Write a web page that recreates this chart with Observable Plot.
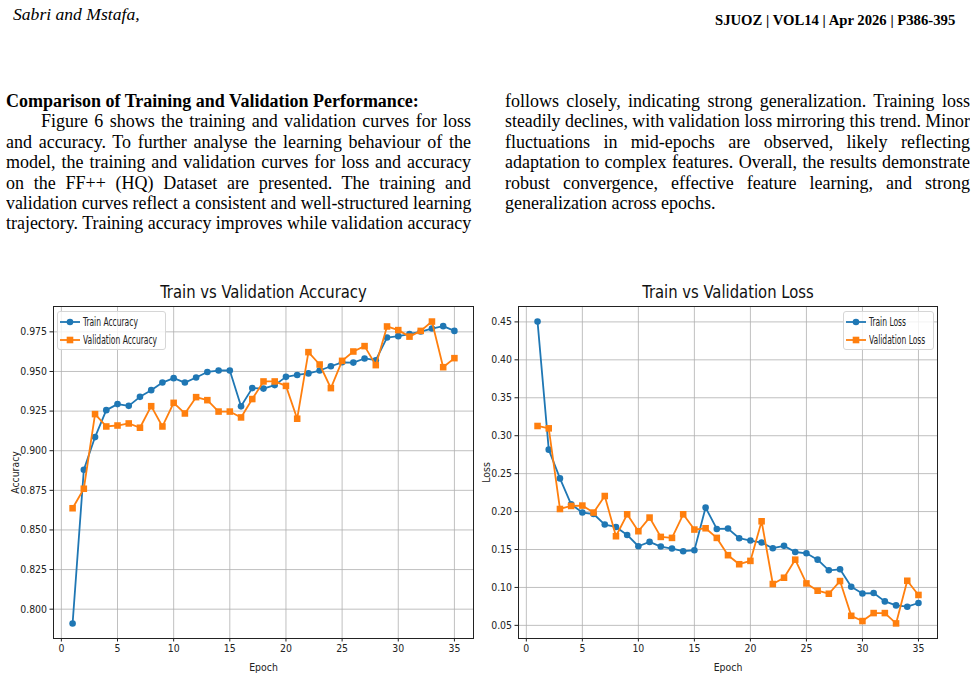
<!DOCTYPE html>
<html>
<head>
<meta charset="utf-8">
<script src="https://cdn.jsdelivr.net/npm/d3@7"></script>
<script src="https://cdn.jsdelivr.net/npm/@observablehq/plot@0.6"></script>
<style>
  html, body { margin: 0; padding: 0; background: #fff; }
  #page { position: relative; width: 978px; height: 680px; overflow: hidden; background: #fff; font-family: "Liberation Serif", "Times New Roman", serif; color: #000; }
  .abs { position: absolute; white-space: nowrap; }
  .line { position: absolute; white-space: nowrap; font-size: 18px; line-height: 20.4px; text-align: justify; text-align-last: justify; }
  .line.last { text-align-last: left; }
  .legend { position: absolute; background: rgba(255,255,255,0.8); border: 1px solid #d6d6d6; border-radius: 3px; box-sizing: border-box; font-family: "DejaVu Sans Condensed", "DejaVu Sans", sans-serif; font-stretch: condensed; font-size: 11.5px; color: #222; }
  .legend .row { position: absolute; left: 0; height: 14px; display: flex; align-items: center; white-space: nowrap; }
  .legend .row span { display: inline-block; transform-origin: 0 50%; transform: scaleX(0.73); }
  .legend svg { display: block; flex: none; }
  .chart { position: absolute; top: 280px; }
</style>
</head>
<body>
<div id="page"></div>
<script>
// Training history, one value per epoch
const epochs = [1, 2, 3, 4, 5, 6, 7, 8, 9, 10, 11, 12, 13, 14, 15, 16, 17, 18, 19, 20, 21, 22, 23, 24, 25, 26, 27, 28, 29, 30, 31, 32, 33, 34, 35];
const trainAcc = [0.791, 0.888, 0.9086, 0.9256, 0.9294, 0.9283, 0.934, 0.9382, 0.943, 0.9458, 0.943, 0.9462, 0.9497, 0.9506, 0.9506, 0.928, 0.9395, 0.9392, 0.9414, 0.9466, 0.9478, 0.9488, 0.9506, 0.9533, 0.9558, 0.9556, 0.9582, 0.9571, 0.9714, 0.9723, 0.9736, 0.9752, 0.9771, 0.9786, 0.9756];
const valAcc = [0.8637, 0.876, 0.9231, 0.9153, 0.9159, 0.9172, 0.9145, 0.9281, 0.9153, 0.9302, 0.9235, 0.9338, 0.9319, 0.9247, 0.9247, 0.921, 0.9326, 0.9437, 0.9437, 0.9409, 0.9202, 0.9622, 0.9544, 0.9395, 0.9567, 0.9626, 0.966, 0.954, 0.9784, 0.9761, 0.972, 0.9756, 0.9815, 0.9527, 0.9584];
const trainLoss = [0.4504, 0.2816, 0.2437, 0.2096, 0.1987, 0.1968, 0.1829, 0.1797, 0.1692, 0.1543, 0.16, 0.1539, 0.1513, 0.1478, 0.149, 0.2053, 0.1771, 0.1776, 0.1649, 0.1618, 0.1592, 0.1517, 0.1548, 0.1467, 0.145, 0.1366, 0.1226, 0.1239, 0.1009, 0.0921, 0.0926, 0.0816, 0.0763, 0.0746, 0.0795];
const valLoss = [0.3128, 0.3097, 0.2034, 0.2074, 0.2079, 0.1987, 0.2205, 0.1675, 0.1964, 0.1741, 0.1921, 0.1666, 0.1653, 0.1964, 0.1763, 0.178, 0.1653, 0.1425, 0.1306, 0.135, 0.1872, 0.1045, 0.1128, 0.1366, 0.1053, 0.0957, 0.0917, 0.1084, 0.0626, 0.0557, 0.0662, 0.0662, 0.0526, 0.1088, 0.0901];

// Tick values
const epochTicks = [0, 5, 10, 15, 20, 25, 30, 35];
const accTicks = [0.800, 0.825, 0.850, 0.875, 0.900, 0.925, 0.950, 0.975];
const lossTicks = [0.05, 0.10, 0.15, 0.20, 0.25, 0.30, 0.35, 0.40, 0.45];

// Text
const headerLeft = "Sabri and Mstafa,";
const headerRight = "SJUOZ | VOL14 | Apr 2026 | P386-395";
const heading = "Comparison of Training and Validation Performance:";
const leftLines = [
  "Figure 6 shows the training and validation curves for loss",
  "and accuracy. To further analyse the learning behaviour of the",
  "model, the training and validation curves for loss and accuracy",
  "on the FF++ (HQ) Dataset are presented. The training and",
  "validation curves reflect a consistent and well-structured learning",
  "trajectory. Training accuracy improves while validation accuracy"
];
const rightLines = [
  "follows closely, indicating strong generalization. Training loss",
  "steadily declines, with validation loss mirroring this trend. Minor",
  "fluctuations in mid-epochs are observed, likely reflecting",
  "adaptation to complex features. Overall, the results demonstrate",
  "robust convergence, effective feature learning, and strong",
  "generalization across epochs."
];

const BLUE = "#1f77b4", ORANGE = "#ff7f0e";
const chartFont = '"DejaVu Sans Condensed", "DejaVu Sans", sans-serif';
const page = document.getElementById("page");

function addDiv(cls, text, css) {
  const d = document.createElement("div");
  d.className = cls;
  d.textContent = text;
  Object.assign(d.style, css);
  page.appendChild(d);
  return d;
}

// Running header
addDiv("abs", headerLeft, {left: "13px", top: "4px", fontSize: "17.6px", fontStyle: "italic"});
addDiv("abs", headerRight, {left: "715px", top: "12px", fontSize: "14.7px", fontWeight: "bold"});

// Two text columns
const lineTop = 91, lineStep = 20.4;
addDiv("line last", heading, {left: "6px", top: lineTop + "px", fontWeight: "bold"});
leftLines.forEach((t, i) => {
  const indent = i === 0 ? 35 : 0;
  addDiv("line", t, {left: (6 + indent) + "px", width: (465 - indent) + "px", top: (lineTop + (i + 1) * lineStep) + "px"});
});
rightLines.forEach((t, i) => {
  addDiv(i === rightLines.length - 1 ? "line last" : "line", t, {left: "505px", width: "465px", top: (lineTop + i * lineStep) + "px"});
});

// Squeeze any justified line whose natural width overflows its column
document.querySelectorAll(".line").forEach(el => {
  if (el.style.width && el.scrollWidth > el.clientWidth + 0.5) {
    el.style.transformOrigin = "0 0";
    el.style.transform = `scaleX(${el.clientWidth / el.scrollWidth})`;
  }
});

function lineChart({rows, yDomain, yTicks, yFormat, yLabel, title, left, width, marginLeft, marginRight, yLabelOffset}) {
  const chart = Plot.plot({
    width, height: 400,
    marginLeft, marginRight, marginTop: 26, marginBottom: 42,
    style: {fontFamily: chartFont, fontSize: "10.4px", background: "transparent", color: "#222", overflow: "visible"},
    x: {domain: [-0.7, 36.7]},
    y: {domain: yDomain},
    marks: [
      Plot.gridX(epochTicks, {stroke: "#b0b0b0", strokeOpacity: 1, strokeWidth: 0.8}),
      Plot.gridY(yTicks, {stroke: "#b0b0b0", strokeOpacity: 1, strokeWidth: 0.8}),
      Plot.axisX(epochTicks, {tickSize: 3.5, tickPadding: 3, label: "Epoch", labelAnchor: "center", labelArrow: "none", labelOffset: 32}),
      Plot.axisY(yTicks, {tickSize: 3.5, tickPadding: 3, tickFormat: d3.format(yFormat), label: yLabel, labelAnchor: "center", labelArrow: "none", labelOffset: yLabelOffset}),
      Plot.frame({stroke: "#222", strokeWidth: 1}),
      Plot.line(rows, {x: "epoch", y: "train", stroke: BLUE, strokeWidth: 1.8}),
      Plot.dot(rows, {x: "epoch", y: "train", fill: BLUE, r: 3.3, symbol: "circle"}),
      Plot.line(rows, {x: "epoch", y: "val", stroke: ORANGE, strokeWidth: 1.8}),
      Plot.dot(rows, {x: "epoch", y: "val", fill: ORANGE, r: 3.7, symbol: "square"}),
      Plot.text([title], {frameAnchor: "top", lineAnchor: "middle", dy: -14, fontSize: 18, fill: "#111", className: "chart-title"})
    ]
  });
  // narrow the title glyphs horizontally around their anchor
  chart.querySelectorAll(".chart-title text").forEach(t => {
    t.setAttribute("transform", (t.getAttribute("transform") || "") + " scale(0.915,1)");
  });
  chart.classList.add("chart");
  chart.style.left = left + "px";
  page.appendChild(chart);
}

function legend({left, top, width, height, items}) {
  const box = document.createElement("div");
  box.className = "legend";
  Object.assign(box.style, {left: left + "px", top: top + "px", width: width + "px", height: height + "px"});
  items.forEach((it, i) => {
    const row = document.createElement("div");
    row.className = "row";
    row.style.top = (3 + i * 17.6) + "px";
    const marker = it.symbol === "circle"
      ? `<circle cx="12" cy="7" r="3.3" fill="${it.color}"/>`
      : `<rect x="8.7" y="3.7" width="6.6" height="6.6" fill="${it.color}"/>`;
    row.innerHTML = `<svg width="24" height="14"><line x1="2" y1="7" x2="22" y2="7" stroke="${it.color}" stroke-width="1.8"/>${marker}</svg><span style="margin-left:1px">${it.label}</span>`;
    box.appendChild(row);
  });
  page.appendChild(box);
}

const accRows = epochs.map((e, i) => ({epoch: e, train: trainAcc[i], val: valAcc[i]}));
const lossRows = epochs.map((e, i) => ({epoch: e, train: trainLoss[i], val: valLoss[i]}));

lineChart({rows: accRows, yDomain: [0.7815, 0.991], yTicks: accTicks, yFormat: ".3f", yLabel: "Accuracy",
  title: "Train vs Validation Accuracy", left: 0, width: 480, marginLeft: 53, marginRight: 7, yLabelOffset: 42});
lineChart({rows: lossRows, yDomain: [0.0327, 0.4703], yTicks: lossTicks, yFormat: ".2f", yLabel: "Loss",
  title: "Train vs Validation Loss", left: 480, width: 498, marginLeft: 38, marginRight: 41, yLabelOffset: 36});

legend({left: 57, top: 311, width: 109, height: 39, items: [
  {label: "Train Accuracy", color: BLUE, symbol: "circle"},
  {label: "Validation Accuracy", color: ORANGE, symbol: "square"}
]});
legend({left: 843, top: 311, width: 91, height: 39, items: [
  {label: "Train Loss", color: BLUE, symbol: "circle"},
  {label: "Validation Loss", color: ORANGE, symbol: "square"}
]});
</script>
</body>
</html>
